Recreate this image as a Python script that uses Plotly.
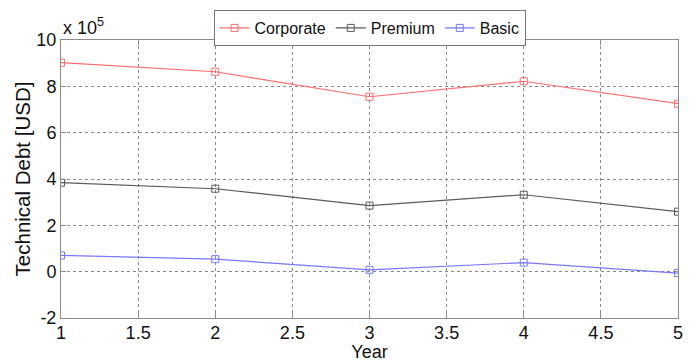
import plotly.graph_objects as go

# Technical debt per year for each service tier (USD)
years = [1, 2, 3, 4, 5]
corporate = [902000, 863000, 755000, 822000, 725000]
premium = [384000, 358000, 285000, 332000, 259000]
basic = [70000, 54000, 8000, 39000, -6000]

series = [
    ("Corporate", corporate, "#ff6e6e"),
    ("Premium", premium, "#5a5a5a"),
    ("Basic", basic, "#7878ff"),
]

y_ticks = [-200000, 0, 200000, 400000, 600000, 800000, 1000000]
y_tick_text = ["-2", "0", "2", "4", "6", "8", "10"]
x_ticks = [1, 1.5, 2, 2.5, 3, 3.5, 4, 4.5, 5]
x_tick_text = ["1", "1.5", "2", "2.5", "3", "3.5", "4", "4.5", "5"]

FONT = "Liberation Sans, Arial, sans-serif"

fig = go.Figure()
for name, vals, color in series:
    fig.add_trace(go.Scatter(
        x=years, y=vals, name=name, mode="lines+markers",
        line=dict(color=color, width=1.2),
        marker=dict(symbol="square-open", size=7, color=color, line=dict(width=1)),
    ))

axis_common = dict(
    showline=True, mirror="ticks", linecolor="#8c8c8c", linewidth=1,
    ticks="inside", ticklen=5, tickcolor="#8c8c8c",
    showgrid=True, gridcolor="#8a8a8a", griddash="dot", gridwidth=1,
    zeroline=False,
    tickfont=dict(family=FONT, size=18, color="#111"),
    automargin=False,
)

fig.update_xaxes(
    range=[1, 5], tickvals=x_ticks, ticktext=x_tick_text,
    ticklabelstandoff=-2,
    title=dict(text="Year", font=dict(family=FONT, size=18, color="#111"), standoff=2),
    **axis_common,
)
fig.update_yaxes(
    range=[-200000, 1000000], tickvals=y_ticks, ticktext=y_tick_text,
    title=dict(text="Technical Debt [USD]", font=dict(family=FONT, size=20.5, color="#111"), standoff=0),
    **axis_common,
)

fig.add_annotation(
    x=0, y=1, xref="paper", yref="paper", xanchor="left", yanchor="bottom",
    text="x 10<sup>5</sup>", showarrow=False, yshift=0,
    font=dict(family=FONT, size=18, color="#111"),
)

fig.update_layout(
    width=699, height=362,
    margin=dict(l=61, r=21, t=40, b=44, autoexpand=False),
    paper_bgcolor="white", plot_bgcolor="white",
    showlegend=True,
    legend=dict(
        orientation="h", xref="paper", x=0.5, xanchor="center",
        yref="container", y=1 - 10 / 362, yanchor="top",
        bgcolor="white", bordercolor="#777", borderwidth=1,
        font=dict(family=FONT, size=16, color="#111"),
        itemwidth=30, tracegroupgap=0,
    ),
)

fig.write_html("out.html")
